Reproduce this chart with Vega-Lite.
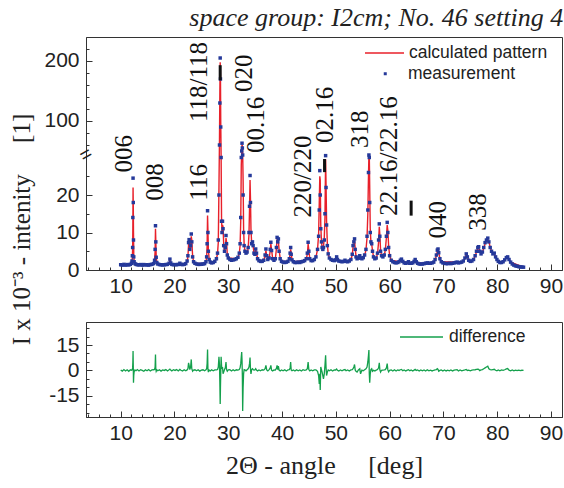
{
  "$schema": "https://vega.github.io/schema/vega-lite/v6.json",
  "background": "white",
  "padding": {"left": 8, "top": 4, "right": 2, "bottom": 4},
  "bounds": "flush",
  "spacing": 52,
  "title": {"text": "space group: I2cm; No. 46 setting 4", "anchor": "end", "font": "Liberation Serif", "fontSize": 26, "fontStyle": "italic", "fontWeight": "normal", "color": "#222", "offset": 1.5},
  "config": {
    "view": {"stroke": "#333", "strokeWidth": 1},
    "axis": {"labelFont": "Liberation Sans", "labelFontSize": 21, "labelColor": "#222", "tickColor": "#333", "domainColor": "#333", "grid": false, "labelFlush": false, "labelOverlap": false, "titleFont": "Liberation Serif", "titleFontWeight": "normal", "titleColor": "#222", "tickWidth": 1},
    "legend": {"labelFont": "Liberation Sans", "labelFontSize": 17.5, "labelColor": "#222", "title": null, "padding": 0}
  },
  "resolve": {"scale": {"stroke": "independent"}},
  "datasets": {
    "xrd": [
      {"t":10.0,"o":1.4,"c":1.35,"d":0.3},{"t":10.3,"o":1.3,"c":1.35,"d":-0.4},{"t":10.6,"o":1.5,"d":0.5},{"t":10.9,"o":1.3,"d":-0.3},{"t":11.2,"o":1.45,"d":0.4},{"t":11.5,"o":1.35,"d":-0.5},{"t":11.8,"o":1.5,"c":1.45,"d":0.4},
      {"t":12.0,"o":1.8,"c":1.7,"d":0.1},{"t":12.1,"o":2.4,"c":2.2,"d":0.3},{"t":12.17,"o":3.8,"c":3.5,"d":0.6},{"t":12.22,"o":6,"c":5.5,"d":1.5},{"t":12.26,"o":14,"c":11,"d":5},{"t":12.3,"o":24.5,"c":22,"d":11.4},{"t":12.34,"o":18,"c":17,"d":3},{"t":12.38,"o":8,"c":10,"d":-7.3},{"t":12.43,"o":3.5,"c":4.5,"d":-3},{"t":12.5,"o":2.2,"c":2.5,"d":-0.8},{"t":12.65,"o":1.7,"c":1.7,"d":0.3},{"t":12.85,"o":1.5,"c":1.5,"d":-0.2},
      {"t":13.1,"o":1.4,"d":0.5},{"t":13.4,"o":1.35,"d":-0.3},{"t":13.7,"o":1.45,"d":0.4},{"t":14.0,"o":1.3,"d":0.0},{"t":14.3,"o":1.45,"d":-0.5},{"t":14.6,"o":1.35,"d":0.4},{"t":14.9,"o":1.4,"d":-0.2},{"t":15.2,"o":1.3,"d":0.5},{"t":15.5,"o":1.45,"d":-0.3},{"t":15.8,"o":1.5,"c":1.5,"d":0.3},
      {"t":16.1,"o":1.7,"c":1.7,"d":0.4},{"t":16.3,"o":2.6,"c":2.5,"d":0.6},{"t":16.4,"o":5.5,"c":5,"d":2},{"t":16.47,"o":11.8,"c":11,"d":9.4},{"t":16.53,"o":7.5,"c":7.8,"d":1},{"t":16.6,"o":3.4,"c":3.6,"d":-0.5},{"t":16.72,"o":2.0,"c":2.0,"d":0.3},{"t":16.9,"o":1.6,"c":1.6,"d":-0.2},
      {"t":17.2,"o":1.45,"d":0.4},{"t":17.5,"o":1.4,"d":-0.4},{"t":17.8,"o":1.35,"d":0.3},{"t":18.1,"o":1.4,"d":0.0},{"t":18.4,"o":1.45,"d":0.5},{"t":18.7,"o":1.5,"c":1.5,"d":-0.3},
      {"t":19.0,"o":1.8,"c":1.8,"d":0.4},{"t":19.15,"o":2.9,"c":2.7,"d":0.8},{"t":19.3,"o":1.9,"c":1.9,"d":0.2},{"t":19.5,"o":1.5,"c":1.5,"d":-0.3},{"t":19.8,"o":1.4,"d":0.4},{"t":20.1,"o":1.45,"d":0.0},{"t":20.4,"o":1.4,"d":0.5},{"t":20.7,"o":1.5,"c":1.5,"d":-0.3},
      {"t":21.0,"o":1.8,"c":1.7,"d":0.6},{"t":21.2,"o":1.5,"c":1.5,"d":0.1},{"t":21.5,"o":1.45,"d":-0.3},{"t":21.8,"o":1.5,"d":0.4},{"t":22.1,"o":1.7,"c":1.7,"d":-0.2},
      {"t":22.35,"o":2.4,"c":2.3,"d":0.3},{"t":22.5,"o":3.8,"c":3.5,"d":1},{"t":22.62,"o":7.3,"c":6.8,"d":4.5},{"t":22.72,"o":8.1,"c":7.8,"d":3},{"t":22.85,"o":5.5,"c":5.8,"d":0.5},{"t":23.0,"o":6.5,"c":6,"d":2},{"t":23.12,"o":9.6,"c":9,"d":6.5},{"t":23.22,"o":7.5,"c":8,"d":1},{"t":23.37,"o":3.5,"c":3.8,"d":-0.5},{"t":23.55,"o":2.2,"c":2.2,"d":0.2},{"t":23.8,"o":1.8,"c":1.8,"d":0.4},
      {"t":24.1,"o":1.6,"d":-0.2},{"t":24.4,"o":1.5,"d":0.4},{"t":24.7,"o":1.5,"d":-0.4},{"t":25.0,"o":1.55,"d":0.2},{"t":25.3,"o":1.6,"d":0.4},{"t":25.6,"o":1.7,"c":1.7,"d":-0.2},
      {"t":25.85,"o":2.2,"c":2.1,"d":0.4},{"t":25.98,"o":3.5,"c":3.2,"d":1},{"t":26.07,"o":7,"c":6.5,"d":4},{"t":26.15,"o":15.8,"c":14.5,"d":12.4},{"t":26.22,"o":10,"c":10.5,"d":1},{"t":26.3,"o":5,"c":5.5,"d":-1},{"t":26.45,"o":2.8,"c":2.9,"d":0.2},{"t":26.65,"o":2.1,"c":2.1,"d":-0.3},
      {"t":26.9,"o":1.9,"d":0.4},{"t":27.2,"o":2.0,"d":-0.2},{"t":27.5,"o":2.3,"c":2.3,"d":0.3},{"t":27.8,"o":3.0,"c":3.0,"d":0.3},
      {"t":28.0,"o":4.5,"c":4.3,"d":0.5},{"t":28.15,"o":8,"c":7.5,"d":2},{"t":28.27,"o":20,"c":22,"d":8},{"t":28.37,"o":60,"c":70,"d":3},{"t":28.44,"o":130,"c":150,"d":-8},{"t":28.5,"o":205,"c":198,"d":-19.8},{"t":28.55,"o":170,"c":175,"d":-10},{"t":28.6,"o":90,"c":100,"d":-2},{"t":28.67,"o":30,"c":35,"d":8},{"t":28.75,"o":13,"c":14,"d":3},{"t":28.83,"o":10,"c":10,"d":1},{"t":28.93,"o":13,"c":12,"d":2},{"t":29.03,"o":11,"c":11.5,"d":-2},{"t":29.15,"o":6.5,"c":7,"d":-1},{"t":29.3,"o":5,"c":5,"d":0.5},{"t":29.45,"o":6,"c":5.8,"d":1.5},{"t":29.58,"o":9.2,"c":8.5,"d":5},{"t":29.68,"o":7,"c":7.5,"d":0.5},{"t":29.82,"o":4,"c":4.2,"d":-0.5},{"t":30.0,"o":3.2,"c":3.2,"d":0.3},
      {"t":30.3,"o":2.8,"d":0.4},{"t":30.6,"o":2.6,"d":-0.3},{"t":30.9,"o":2.7,"d":0.4},{"t":31.2,"o":2.8,"d":-0.2},{"t":31.5,"o":3.0,"c":3.0,"d":0.4},{"t":31.8,"o":3.4,"c":3.3,"d":0.2},
      {"t":32.05,"o":4.5,"c":4.4,"d":0.5},{"t":32.2,"o":7,"c":6.5,"d":1.5},{"t":32.32,"o":14,"c":13,"d":4},{"t":32.42,"o":30,"c":28,"d":8},{"t":32.5,"o":50,"c":46,"d":10.8},{"t":32.56,"o":63,"c":60,"d":6},{"t":32.62,"o":55,"c":58,"d":-3},{"t":32.68,"o":38,"c":45,"d":-24},{"t":32.76,"o":20,"c":24,"d":-10},{"t":32.85,"o":10,"c":11,"d":-2},{"t":32.95,"o":6.5,"c":7,"d":0.5},{"t":33.1,"o":5,"c":5,"d":0.3},{"t":33.3,"o":4.5,"c":4.5,"d":-0.3},{"t":33.5,"o":4.8,"c":4.7,"d":0.4},
      {"t":33.7,"o":6,"c":5.7,"d":1},{"t":33.85,"o":10,"c":9.5,"d":2},{"t":33.95,"o":17,"c":16,"d":4},{"t":34.05,"o":25.2,"c":24,"d":7.6},{"t":34.13,"o":18,"c":19,"d":1},{"t":34.22,"o":10,"c":11,"d":-2},{"t":34.35,"o":7,"c":7.2,"d":0.5},{"t":34.5,"o":7.5,"c":7.2,"d":1},{"t":34.62,"o":6.5,"c":6.4,"d":0.6},{"t":34.78,"o":4.5,"c":4.6,"d":0.2},{"t":34.95,"o":4.2,"c":4.2,"d":0.3},{"t":35.1,"o":5.6,"c":5.3,"d":1},{"t":35.25,"o":4.5,"c":4.6,"d":0.2},{"t":35.45,"o":3.0,"c":3.1,"d":-0.3},{"t":35.7,"o":2.5,"c":2.5,"d":0.3},
      {"t":36.0,"o":2.3,"d":-0.2},{"t":36.3,"o":2.3,"d":0.4},{"t":36.6,"o":2.6,"c":2.6,"d":0.2},{"t":36.85,"o":4.0,"c":3.8,"d":1},{"t":37.0,"o":5.6,"c":5.2,"d":3},{"t":37.15,"o":3.8,"c":4,"d":0.3},{"t":37.35,"o":2.8,"c":2.8,"d":-0.3},{"t":37.6,"o":3.2,"c":3.1,"d":0.5},{"t":37.8,"o":5.5,"c":5.2,"d":1.5},{"t":37.92,"o":7.4,"c":7,"d":3},{"t":38.05,"o":5.2,"c":5.4,"d":0.2},{"t":38.25,"o":3.0,"c":3.1,"d":-0.3},{"t":38.5,"o":2.6,"c":2.6,"d":0.3},{"t":38.75,"o":3.0,"c":3.0,"d":0.2},{"t":38.95,"o":6,"c":5.6,"d":1.2},{"t":39.08,"o":8.7,"c":8.2,"d":3},{"t":39.2,"o":7.5,"c":7.8,"d":0.5},{"t":39.32,"o":8.3,"c":7.7,"d":2.5},{"t":39.45,"o":5,"c":5.4,"d":0.2},{"t":39.65,"o":3.0,"c":3.1,"d":-0.3},{"t":39.9,"o":2.3,"c":2.3,"d":0.3},
      {"t":40.2,"o":2.1,"d":-0.2},{"t":40.5,"o":2.0,"d":0.4},{"t":40.8,"o":2.1,"d":-0.3},{"t":41.1,"o":2.3,"c":2.3,"d":0.3},{"t":41.35,"o":3.0,"c":2.9,"d":0.4},{"t":41.5,"o":4.5,"c":4.2,"d":1.5},{"t":41.6,"o":6.0,"c":5.5,"d":5},{"t":41.7,"o":4.2,"c":4.5,"d":0.3},{"t":41.85,"o":2.7,"c":2.8,"d":-0.2},{"t":42.1,"o":2.2,"c":2.2,"d":0.3},
      {"t":42.4,"o":2.0,"d":-0.3},{"t":42.7,"o":2.0,"d":0.4},{"t":43.0,"o":2.1,"d":-0.2},{"t":43.3,"o":2.0,"d":0.3},{"t":43.6,"o":2.2,"d":-0.3},{"t":43.9,"o":2.3,"d":0.4},{"t":44.2,"o":2.5,"c":2.5,"d":0.1},
      {"t":44.5,"o":3.0,"c":2.9,"d":0.3},{"t":44.7,"o":4.5,"c":4.2,"d":1},{"t":44.85,"o":7.4,"c":7,"d":5},{"t":44.98,"o":5,"c":5.3,"d":0.5},{"t":45.15,"o":3.0,"c":3.1,"d":-0.3},{"t":45.4,"o":2.5,"c":2.5,"d":0.3},{"t":45.7,"o":2.5,"d":-0.2},{"t":46.0,"o":2.8,"c":2.8,"d":0.3},
      {"t":46.3,"o":3.5,"c":3.4,"d":0.3},{"t":46.6,"o":5.5,"c":5.5,"d":-0.5},{"t":46.8,"o":9,"c":9.5,"d":-3},{"t":46.92,"o":16,"c":18,"d":-8},{"t":47.02,"o":26.5,"c":25,"d":-2},{"t":47.1,"o":20,"c":24,"d":-11.6},{"t":47.2,"o":11,"c":12,"d":2},{"t":47.33,"o":7.5,"c":7.5,"d":0.5},{"t":47.45,"o":6,"c":6,"d":-1},{"t":47.58,"o":5.5,"c":5.5,"d":-3},{"t":47.7,"o":6,"c":6.3,"d":-5},{"t":47.85,"o":8,"c":8.5,"d":-2},{"t":47.98,"o":15,"c":14,"d":3},{"t":48.1,"o":30.5,"c":29.5,"d":9},{"t":48.18,"o":22,"c":23,"d":2},{"t":48.28,"o":12,"c":13,"d":-3},{"t":48.42,"o":6.5,"c":7,"d":-1},{"t":48.58,"o":4.3,"c":4.3,"d":0.3},{"t":48.8,"o":3.2,"c":3.2,"d":-0.2},
      {"t":49.1,"o":2.8,"d":0.4},{"t":49.4,"o":2.6,"d":-0.3},{"t":49.7,"o":2.5,"c":2.5,"d":0.3},{"t":49.95,"o":2.7,"c":2.7,"d":0.2},{"t":50.15,"o":3.5,"c":3.3,"d":0.8},{"t":50.3,"o":2.8,"c":2.8,"d":0.1},{"t":50.55,"o":2.4,"c":2.4,"d":-0.3},{"t":50.85,"o":2.3,"d":0.3},{"t":51.15,"o":2.2,"d":-0.2},{"t":51.45,"o":2.3,"c":2.3,"d":0.3},{"t":51.7,"o":2.6,"c":2.5,"d":0.5},{"t":51.9,"o":2.3,"c":2.3,"d":-0.2},{"t":52.2,"o":2.2,"d":0.3},{"t":52.5,"o":2.4,"d":-0.3},{"t":52.8,"o":2.8,"c":2.8,"d":0.3},
      {"t":53.05,"o":4.2,"c":4,"d":0.5},{"t":53.2,"o":6.5,"c":6.2,"d":1},{"t":53.35,"o":7.5,"c":7,"d":2},{"t":53.48,"o":8.3,"c":7.8,"d":3.5},{"t":53.6,"o":5.5,"c":5.8,"d":0.3},{"t":53.75,"o":3.5,"c":3.7,"d":-0.5},{"t":53.95,"o":3.0,"c":3.1,"d":-1},{"t":54.2,"o":3.2,"c":3.2,"d":0.3},{"t":54.45,"o":3.8,"c":3.5,"d":1},{"t":54.6,"o":3.2,"c":3.4,"d":-2},{"t":54.85,"o":3.0,"c":3.0,"d":0.2},{"t":55.1,"o":3.3,"c":3.3,"d":-0.2},
      {"t":55.35,"o":4.0,"c":3.9,"d":0.4},{"t":55.6,"o":5.5,"c":5.3,"d":1},{"t":55.8,"o":9,"c":8.6,"d":2},{"t":55.95,"o":16,"c":15,"d":5},{"t":56.07,"o":26,"c":25,"d":9},{"t":56.15,"o":32,"c":31,"d":12},{"t":56.22,"o":30,"c":31,"d":-2},{"t":56.3,"o":18,"c":22,"d":-7.3},{"t":56.4,"o":10,"c":11,"d":-2},{"t":56.52,"o":7.5,"c":7.5,"d":0.5},{"t":56.67,"o":7,"c":6.8,"d":1},{"t":56.82,"o":5,"c":5.2,"d":-0.5},{"t":57.0,"o":3.5,"c":3.6,"d":0.1},{"t":57.25,"o":3.0,"c":3.0,"d":-0.3},{"t":57.5,"o":3.2,"c":3.2,"d":0.2},
      {"t":57.75,"o":4.5,"c":4.3,"d":0.5},{"t":57.95,"o":8,"c":7.5,"d":1.5},{"t":58.08,"o":12.3,"c":11.5,"d":4.5},{"t":58.18,"o":9,"c":9.5,"d":0.5},{"t":58.32,"o":5,"c":5.3,"d":-1},{"t":58.5,"o":3.8,"c":3.8,"d":0.1},{"t":58.75,"o":3.5,"c":3.5,"d":0.2},{"t":59.0,"o":4.0,"c":3.9,"d":0.3},{"t":59.2,"o":5.5,"c":5.3,"d":0.5},{"t":59.4,"o":9,"c":8.6,"d":1.5},{"t":59.55,"o":12.7,"c":12,"d":4},{"t":59.67,"o":10,"c":10.5,"d":0.3},{"t":59.82,"o":6,"c":6.4,"d":-0.8},{"t":60.0,"o":3.8,"c":3.9,"d":0.1},{"t":60.3,"o":2.6,"c":2.6,"d":0.3},
      {"t":60.6,"o":2.2,"d":-0.3},{"t":60.9,"o":2.0,"d":0.4},{"t":61.2,"o":1.9,"d":-0.3},{"t":61.5,"o":2.0,"d":0.3},{"t":61.75,"o":2.2,"c":2.2,"d":0.0},{"t":62.0,"o":2.6,"c":2.5,"d":0.4},{"t":62.2,"o":2.9,"c":2.8,"d":0.6},{"t":62.45,"o":2.3,"c":2.3,"d":-0.2},{"t":62.7,"o":1.9,"d":0.3},{"t":63.0,"o":1.8,"d":-0.3},{"t":63.3,"o":1.9,"c":1.9,"d":0.2},{"t":63.5,"o":2.2,"c":2.1,"d":0.4},{"t":63.75,"o":1.8,"c":1.8,"d":-0.2},{"t":64.0,"o":1.8,"d":0.3},{"t":64.3,"o":1.9,"c":1.9,"d":-0.3},{"t":64.55,"o":2.3,"c":2.3,"d":0.2},{"t":64.75,"o":2.8,"c":2.7,"d":0.6},{"t":64.95,"o":2.2,"c":2.2,"d":0.0},{"t":65.2,"o":1.8,"c":1.8,"d":0.3},
      {"t":65.5,"o":1.6,"d":-0.3},{"t":65.8,"o":1.6,"d":0.3},{"t":66.1,"o":1.6,"d":-0.2},{"t":66.4,"o":1.7,"d":0.3},{"t":66.7,"o":1.8,"d":-0.3},{"t":67.0,"o":1.9,"d":0.4},{"t":67.3,"o":1.8,"d":-0.2},{"t":67.6,"o":1.8,"d":0.2},{"t":67.9,"o":1.9,"c":1.9,"d":-0.3},
      {"t":68.2,"o":2.1,"c":2.1,"d":0.1},{"t":68.45,"o":2.8,"c":2.7,"d":0.3},{"t":68.7,"o":4.0,"c":3.8,"d":0.5},{"t":68.87,"o":5.3,"c":5,"d":1},{"t":69.0,"o":5.6,"c":5.4,"d":0.6},{"t":69.13,"o":4.6,"c":4.7,"d":-0.5},{"t":69.35,"o":3.0,"c":3.1,"d":0.0},{"t":69.6,"o":2.2,"c":2.2,"d":0.3},
      {"t":69.9,"o":1.9,"d":-0.3},{"t":70.2,"o":1.8,"d":0.3},{"t":70.5,"o":1.7,"d":-0.3},{"t":70.8,"o":1.7,"d":0.2},{"t":71.1,"o":1.8,"d":-0.2},{"t":71.4,"o":1.7,"d":0.3},{"t":71.7,"o":1.8,"d":-0.3},{"t":72.0,"o":1.9,"d":0.2},{"t":72.3,"o":2.0,"d":0.3},{"t":72.55,"o":2.1,"d":0.4},{"t":72.8,"o":1.9,"d":-0.3},{"t":73.1,"o":2.0,"d":0.3},{"t":73.4,"o":2.1,"c":2.1,"d":-0.2},
      {"t":73.7,"o":2.4,"c":2.4,"d":0.1},{"t":74.0,"o":3.2,"c":3.1,"d":0.3},{"t":74.25,"o":4.3,"c":4.1,"d":0.6},{"t":74.45,"o":3.5,"c":3.6,"d":0.0},{"t":74.7,"o":2.6,"c":2.6,"d":0.2},{"t":75.0,"o":2.3,"c":2.3,"d":-0.2},{"t":75.3,"o":2.4,"c":2.4,"d":0.2},
      {"t":75.6,"o":2.8,"c":2.8,"d":0.3},{"t":75.9,"o":3.8,"c":3.7,"d":0.4},{"t":76.15,"o":5.0,"c":4.8,"d":0.6},{"t":76.4,"o":6.0,"c":5.8,"d":0.8},{"t":76.55,"o":6.2,"c":6.0,"d":0.6},{"t":76.75,"o":5.0,"c":5.2,"d":-0.1},{"t":77.0,"o":4.3,"c":4.4,"d":0.3},{"t":77.25,"o":4.8,"c":4.7,"d":0.5},{"t":77.5,"o":6.0,"c":5.8,"d":1},{"t":77.75,"o":7.3,"c":7.0,"d":1.5},{"t":78.0,"o":8.0,"c":7.7,"d":2},{"t":78.25,"o":8.5,"c":8.1,"d":2.5},{"t":78.45,"o":7.5,"c":7.6,"d":1},{"t":78.7,"o":6,"c":6.1,"d":0.5},{"t":78.95,"o":5.0,"c":5.0,"d":0.3},{"t":79.2,"o":4.3,"c":4.3,"d":0.5},{"t":79.45,"o":4.5,"c":4.3,"d":0.7},{"t":79.7,"o":3.5,"c":3.6,"d":0.1},{"t":79.95,"o":2.8,"c":2.9,"d":-0.2},
      {"t":80.2,"o":2.3,"c":2.3,"d":0.3},{"t":80.5,"o":2.0,"d":-0.2},{"t":80.8,"o":2.0,"d":0.3},{"t":81.1,"o":2.2,"c":2.2,"d":0.0},{"t":81.4,"o":2.7,"c":2.7,"d":0.4},{"t":81.7,"o":3.3,"c":3.2,"d":0.9},{"t":81.95,"o":3.5,"c":3.4,"d":1.1},{"t":82.2,"o":2.8,"c":2.9,"d":0.2},{"t":82.5,"o":2.1,"c":2.1,"d":-0.2},
      {"t":82.8,"o":1.6,"d":0.3},{"t":83.1,"o":1.3,"d":-0.2},{"t":83.4,"o":1.1,"d":0.2},{"t":83.7,"o":1.0,"d":-0.1},{"t":84.0,"o":0.9,"d":0.2},{"t":84.3,"o":0.8,"d":-0.1},{"t":84.6,"o":0.8,"d":0.1},{"t":84.9,"o":0.75,"c":0.75,"d":0.0}
    ],
    "peaks": [
      {"t":10.65,"v":26.0,"s":"006"},{"t":16.4,"v":18.5,"s":"008"},{"t":24.6,"v":18.5,"s":"116"},{"t":24.6,"v":98.3,"s":"118/118"},{"t":32.95,"v":148.3,"s":"020"},{"t":35.2,"v":46.7,"s":"00.16"},{"t":43.95,"v":14.0,"s":"220/220"},{"t":47.9,"v":63.3,"s":"02.16"},{"t":54.45,"v":55,"s":"318"},{"t":59.9,"v":14.5,"s":"22.16/22.16"},{"t":69.0,"v":8.4,"s":"040"},{"t":76.4,"v":10.5,"s":"338"}
    ],
    "bars": [
      {"t":28.5,"v1":168,"v2":193},{"t":47.9,"v1":26.1,"v2":29.6},{"t":64.0,"v1":14.5,"v2":18.5}
    ],
    "brk": [{"t":3.55,"v":37,"s":"="}]
  },
  "vconcat": [
    {
      "width": 476,
      "height": 233,
      "resolve": {"axis": {"x": "independent", "y": "independent"}},
      "layer": [
        {
          "data": {"name": "xrd"},
          "mark": {"type": "line", "strokeWidth": 1.4, "invalid": "filter"},
          "encoding": {
            "x": {"field": "t", "type": "quantitative", "scale": {"domain": [3.55, 92.05], "nice": false, "zero": false},
                  "axis": {"orient": "bottom", "values": [10,20,30,40,50,60,70,80,90], "tickSize": -6, "labelPadding": 11, "title": null}},
            "y": {"field": "c", "type": "quantitative", "scale": {"domain": [0, 30.67, 43.33, 240], "range": [233, 118, 118, 0], "nice": false, "zero": false},
                  "axis": {"orient": "left", "values": [0,10,20,100,200], "tickSize": -6, "labelPadding": 13,
                           "title": "I x 10⁻³ - intenity \u00a0\u00a0\u00a0\u00a0[1]", "titleFontSize": 25, "titleX": -65, "titleY": 192, "titleAngle": 270, "titleBaseline": "middle", "titleAlign": "center"}},
            "stroke": {"datum": "calculated pattern", "scale": {"domain": ["calculated pattern"], "range": ["#e8202a"]},
                       "legend": {"orient": "none", "legendX": 278, "legendY": -4.5, "symbolType": "stroke", "symbolSize": 1521, "symbolStrokeWidth": 1.5, "labelOffset": 4}}
          }
        },
        {
          "data": {"name": "xrd"},
          "mark": {"type": "square", "size": 12, "opacity": 1},
          "encoding": {
            "x": {"field": "t", "type": "quantitative", "axis": {"orient": "bottom", "values": [4,6,8,12,14,16,18,22,24,26,28,32,34,36,38,42,44,46,48,52,54,56,58,62,64,66,68,72,74,76,78,82,84,86,88,92], "tickSize": -3, "labels": false, "domain": false, "title": null}},
            "y": {"field": "o", "type": "quantitative", "axis": {"orient": "left", "values": [5,15,25,60,80,120,140,160,180,220], "tickSize": -3, "labels": false, "domain": false, "title": null}},
            "fill": {"datum": "measurement", "scale": {"domain": ["measurement"], "range": ["#25399a"]},
                     "legend": {"orient": "none", "legendX": 290.5, "legendY": 28, "symbolType": "square", "symbolSize": 9, "labelOffset": 14}}
          }
        },
        {
          "data": {"name": "bars"},
          "mark": {"type": "rule", "strokeWidth": 3, "color": "#111"},
          "encoding": {
            "x": {"field": "t", "type": "quantitative", "axis": null},
            "y": {"field": "v1", "type": "quantitative", "axis": null},
            "y2": {"field": "v2"}
          }
        },
        {
          "data": {"name": "peaks"},
          "mark": {"type": "text", "angle": 270, "align": "left", "baseline": "middle", "font": "Liberation Serif", "fontSize": 25, "color": "#111"},
          "encoding": {
            "x": {"field": "t", "type": "quantitative", "axis": null},
            "y": {"field": "v", "type": "quantitative", "axis": null},
            "text": {"field": "s"}
          }
        },
        {
          "data": {"name": "brk"},
          "mark": {"type": "text", "angle": 330, "align": "center", "baseline": "middle", "font": "Liberation Sans", "fontSize": 20, "color": "#222"},
          "encoding": {
            "x": {"field": "t", "type": "quantitative", "axis": null},
            "y": {"field": "v", "type": "quantitative", "axis": null},
            "text": {"field": "s"}
          }
        }
      ]
    },
    {
      "width": 476,
      "height": 95,
      "data": {"name": "xrd"},
      "resolve": {"axis": {"x": "independent", "y": "independent"}},
      "layer": [
        {
          "mark": {"type": "line", "strokeWidth": 1.3},
          "encoding": {
            "x": {"field": "t", "type": "quantitative", "scale": {"domain": [3.55, 92.05], "nice": false, "zero": false},
                  "axis": {"orient": "bottom", "values": [10,20,30,40,50,60,70,80,90], "tickSize": -6, "labelPadding": 11,
                           "title": "2Θ - angle \u00a0\u00a0\u00a0\u00a0[deg]", "titleFontSize": 26, "titlePadding": 9}},
            "y": {"field": "d", "type": "quantitative", "scale": {"domain": [-27.5, 28.6], "nice": false, "zero": false},
                  "axis": {"orient": "left", "values": [-15, 0, 15], "tickSize": -6, "labelPadding": 13, "labelExpr": "'' + datum.value", "title": null}},
            "stroke": {"datum": "difference", "scale": {"domain": ["difference"], "range": ["#14a04c"]},
                       "legend": {"orient": "none", "legendX": 313, "legendY": -7.5, "symbolType": "stroke", "symbolSize": 1849, "symbolStrokeWidth": 1.5, "labelOffset": 5}}
          }
        },
        {
          "mark": {"type": "line", "opacity": 0},
          "encoding": {
            "x": {"field": "t", "type": "quantitative", "axis": {"orient": "bottom", "values": [4,6,8,12,14,16,18,22,24,26,28,32,34,36,38,42,44,46,48,52,54,56,58,62,64,66,68,72,74,76,78,82,84,86,88,92], "tickSize": -3, "labels": false, "domain": false, "title": null}},
            "y": {"field": "d", "type": "quantitative", "axis": {"orient": "left", "values": [-25,-20,-10,-5,5,10,20,25], "tickSize": -3, "labels": false, "domain": false, "title": null}}
          }
        }
      ]
    }
  ]
}
